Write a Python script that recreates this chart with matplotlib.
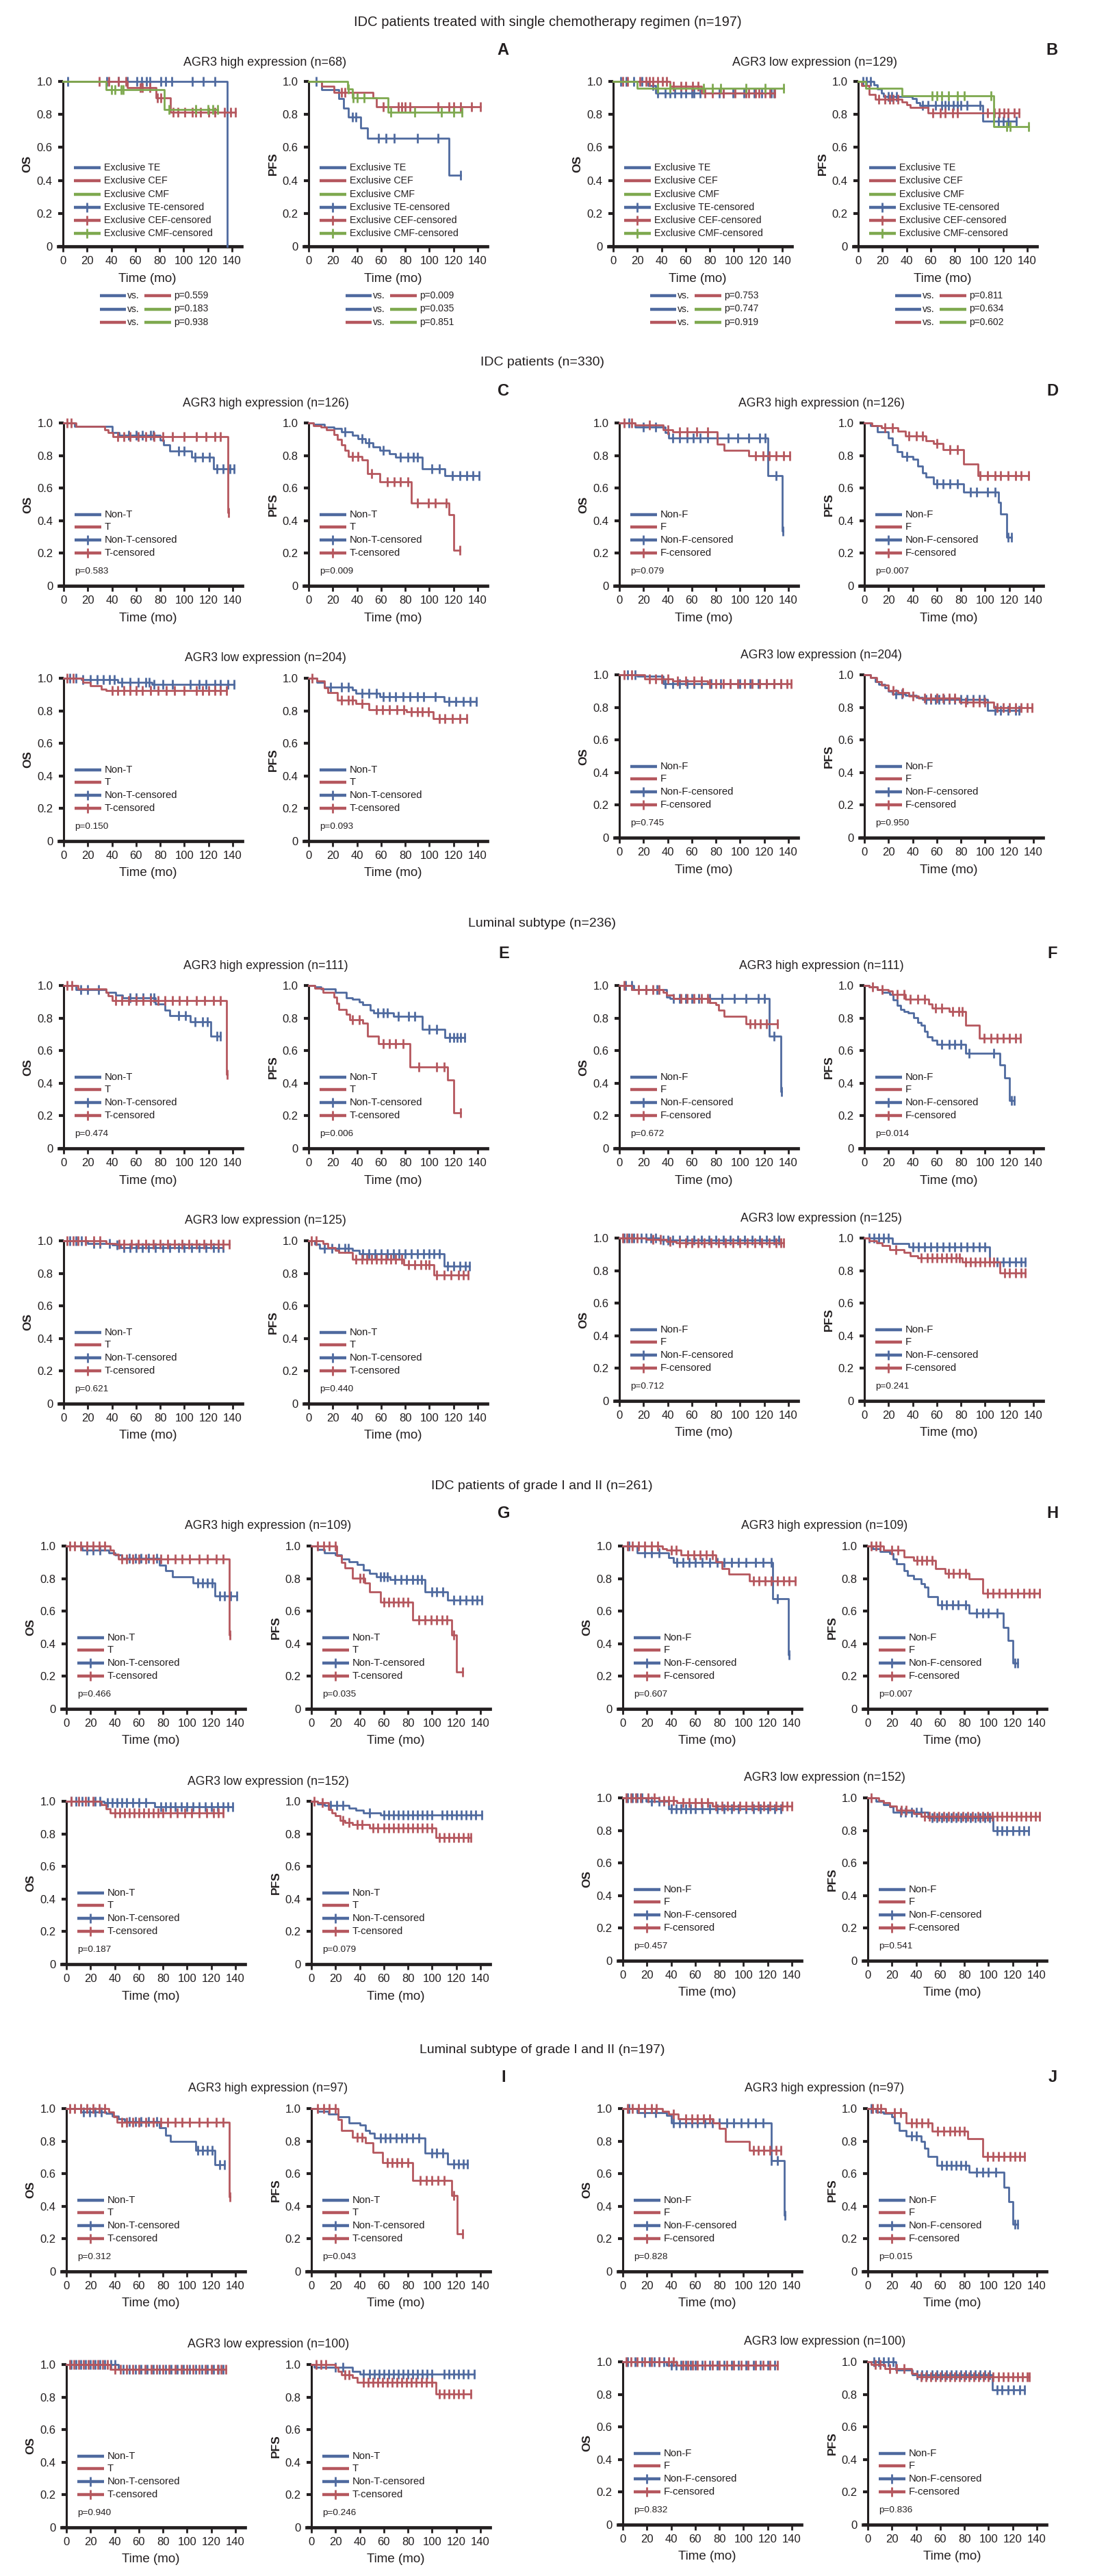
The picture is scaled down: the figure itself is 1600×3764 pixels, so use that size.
import matplotlib
matplotlib.use('Agg')
import matplotlib.pyplot as plt
from matplotlib.lines import Line2D

MAINF = ['Liberation Sans', 'DejaVu Sans']
plt.rcParams['font.family'] = MAINF

# ---------------------------------------------------------------- text data
TITLE_TOP = 'IDC patients treated with single chemotherapy regimen (n=197)'
SUB_A = 'AGR3 high expression (n=68)'
SUB_B = 'AGR3 low expression (n=129)'
SECTION_TITLES = ['IDC patients (n=330)', 'Luminal subtype (n=236)',
                  'IDC patients of grade I and II (n=261)',
                  'Luminal subtype of grade I and II (n=197)']
HIGH_N = [126, 111, 109, 97]
LOW_N = [204, 125, 152, 100]
LETTERS = [('C', 'D'), ('E', 'F'), ('G', 'H'), ('I', 'J')]
LEG_A = ['Exclusive TE', 'Exclusive CEF', 'Exclusive CMF',
         'Exclusive TE-censored', 'Exclusive CEF-censored', 'Exclusive CMF-censored']
LEG_T = ['Non-T', 'T', 'Non-T-censored', 'T-censored']
LEG_F = ['Non-F', 'F', 'Non-F-censored', 'F-censored']
XTICKS = [0, 20, 40, 60, 80, 100, 120, 140]
YTICKS = [0, 0.2, 0.4, 0.6, 0.8, 1.0]
YTICKLABELS = ['0', '0.2', '0.4', '0.6', '0.8', '1.0']

# p-values of row 1 (TE vs CEF, TE vs CMF, CEF vs CMF)
A_OS_P = ['0.559', '0.183', '0.938']
A_PFS_P = ['0.009', '0.035', '0.851']
B_OS_P = ['0.753', '0.747', '0.919']
B_PFS_P = ['0.811', '0.634', '0.602']
# p-values rows 2-9: [OS T, PFS T, OS F, PFS F]
P_CD_HI = ['0.583', '0.009', '0.079', '0.007']
P_CD_LO = ['0.150', '0.093', '0.745', '0.950']
P_EF_HI = ['0.474', '0.006', '0.672', '0.014']
P_EF_LO = ['0.621', '0.440', '0.712', '0.241']
P_GH_HI = ['0.466', '0.035', '0.607', '0.007']
P_GH_LO = ['0.187', '0.079', '0.457', '0.541']
P_IJ_HI = ['0.312', '0.043', '0.828', '0.015']
P_IJ_LO = ['0.940', '0.246', '0.832', '0.836']

# ---------------------------------------------------------------- curves
# steps: (time, survival after drop); censors: times
A_OS_TE = [(136, 0.0)]
A_OS_TE_C = [4, 36, 46, 53, 61, 65, 69, 72, 81, 85, 90, 107, 116, 126]
A_OS_CEF = [(53, 0.963), (77, 0.90), (89, 0.815)]
A_OS_CEF_C = [30, 38, 46, 52, 64, 66, 72, 78, 81, 91, 95, 101, 107, 110, 114, 121, 126, 134, 139, 143]
A_OS_CMF = [(35.5, 0.952), (84, 0.83)]
A_OS_CMF_C = [40, 43, 48, 50, 88, 110, 120, 124, 128]

A_PFS_TE = [(11, 0.95), (25, 0.895), (29, 0.84), (33, 0.785), (43, 0.716), (49, 0.655), (116, 0.432)]
A_PFS_TE_C = [6, 36, 39, 58, 64, 71, 90, 107, 126]
A_PFS_CEF = [(11, 0.973), (21, 0.933), (53, 0.90), (56, 0.846)]
A_PFS_CEF_C = [27, 30, 62, 74, 77, 80, 84, 107, 116, 120, 126, 135, 142]
A_PFS_CMF = [(32.5, 0.955), (36, 0.902), (66, 0.815)]
A_PFS_CMF_C = [33, 37, 40, 46, 68, 88, 110, 120, 127]

B_OS_TE = [(29, 0.975), (35, 0.93)]
B_OS_TE_C = [6, 11, 17, 24, 33, 37, 43, 47, 51, 56, 60, 65, 67, 72, 88, 91, 99, 108, 117, 123, 131, 133]
B_OS_CEF = [(47, 0.97), (73, 0.93)]
B_OS_CEF_C = [8, 12, 22, 27, 30, 33, 37, 41, 44, 50, 56, 60, 66, 70, 76, 82, 91, 101, 110, 112, 118, 121, 126, 130, 134]
B_OS_CMF = [(20, 0.958)]
B_OS_CMF_C = [37, 47, 75, 82, 89, 110, 126, 141]

B_PFS_TE = [(13, 0.98), (16, 0.955), (19, 0.93), (21, 0.907), (45, 0.895), (48, 0.87), (51, 0.853), (103, 0.76)]
B_PFS_TE_C = [4, 7, 10, 25, 28, 32, 53, 58, 64, 69, 72, 75, 79, 82, 85, 90, 101, 116, 120, 124, 131]
B_PFS_CEF = [(3, 0.975), (9, 0.923), (14, 0.892), (36, 0.875), (40, 0.86), (43, 0.842), (58, 0.811)]
B_PFS_CEF_C = [17, 22, 26, 29, 33, 62, 68, 72, 78, 82, 107, 113, 117, 121, 124, 129, 133]
B_PFS_CMF = [(6, 0.96), (36, 0.913), (112, 0.727)]
B_PFS_CMF_C = [61, 65, 69, 75, 82, 88, 110, 123, 126, 141]

# C / D  IDC patients
C_OS_HI_N = [(9, 0.977), (40, 0.94), (46, 0.925), (80, 0.895), (83, 0.864), (88, 0.826), (106, 0.79), (124, 0.72)]
C_OS_HI_N_C = [54, 60, 65, 72, 74, 95, 100, 109, 115, 121, 127, 132, 138, 141]
C_OS_HI_T = [(10, 0.98), (34, 0.96), (37, 0.94), (41, 0.915), (136, 0.45)]
C_OS_HI_T_C = [3, 6, 45, 50, 55, 62, 68, 75, 82, 90, 100, 110, 118, 125, 130, 136.5]
C_PFS_HI_N = [(4, 0.99), (13, 0.975), (21, 0.965), (27, 0.945), (36, 0.925), (41, 0.905), (47, 0.878), (53, 0.853), (59, 0.83), (67, 0.812), (72, 0.79), (94, 0.72), (113, 0.677)]
C_PFS_HI_N_C = [30, 44, 50, 62, 76, 82, 87, 90, 102, 108, 119, 125, 131, 136, 141]
C_PFS_HI_T = [(4, 0.985), (10, 0.975), (15, 0.96), (21, 0.927), (24, 0.899), (27, 0.864), (30, 0.83), (33, 0.794), (44, 0.772), (49, 0.69), (59, 0.639), (85, 0.51), (116, 0.435), (120, 0.218)]
C_PFS_HI_T_C = [36, 41, 52, 65, 71, 76, 82, 90, 99, 105, 114, 125]
D_OS_HI_N = [(13, 0.975), (38, 0.94), (41, 0.906), (123, 0.678), (135, 0.337)]
D_OS_HI_N_C = [8, 20, 30, 44, 50, 56, 61, 67, 73, 81, 90, 98, 107, 116, 121, 130, 135.5]
D_OS_HI_F = [(13, 0.986), (36, 0.96), (44, 0.945), (81, 0.871), (87, 0.831), (107, 0.798)]
D_OS_HI_F_C = [4, 10, 25, 40, 50, 56, 64, 73, 113, 119, 124, 130, 136, 141]
D_PFS_HI_N = [(5, 0.985), (11, 0.944), (20, 0.906), (23, 0.864), (27, 0.822), (31, 0.796), (40, 0.777), (44, 0.737), (48, 0.695), (51, 0.667), (57, 0.625), (82, 0.576), (111, 0.513), (113, 0.443), (118, 0.30)]
D_PFS_HI_N_C = [35, 60, 65, 71, 77, 88, 93, 102, 108, 119, 122]
D_PFS_HI_F = [(6, 0.985), (14, 0.972), (28, 0.948), (34, 0.92), (51, 0.892), (57, 0.875), (65, 0.836), (82, 0.747), (94, 0.677)]
D_PFS_HI_F_C = [17, 23, 37, 43, 48, 60, 71, 77, 96, 102, 108, 113, 119, 125, 130, 136]

C_OS_LO_N = [(15, 0.99), (45, 0.976), (73, 0.962)]
C_OS_LO_N_C = [5, 10, 16, 22, 28, 33, 38, 42, 48, 55, 62, 68, 71, 75, 82, 90, 105, 112, 118, 125, 130, 136, 141]
C_OS_LO_T = [(16, 0.976), (22, 0.955), (31, 0.934), (35, 0.923)]
C_OS_LO_T_C = [3, 8, 40, 45, 50, 55, 60, 65, 72, 78, 85, 92, 100, 110, 115, 120, 125, 130, 135]
C_PFS_LO_N = [(7, 0.975), (13, 0.944), (36, 0.93), (39, 0.909), (59, 0.885), (112, 0.857)]
C_PFS_LO_N_C = [18, 27, 33, 44, 50, 56, 62, 67, 72, 78, 84, 90, 95, 105, 116, 122, 128, 134, 139]
C_PFS_LO_T = [(7, 0.985), (13, 0.94), (16, 0.91), (24, 0.864), (39, 0.843), (50, 0.808), (81, 0.794), (103, 0.751)]
C_PFS_LO_T_C = [3, 27, 33, 36, 44, 56, 61, 67, 73, 79, 85, 90, 94, 99, 108, 113, 119, 125, 131]
D_OS_LO_N = [(15, 0.99), (36, 0.944)]
D_OS_LO_N_C = [7, 13, 38, 44, 50, 56, 62, 68, 76, 84, 92, 100, 108, 115, 122, 128, 134]
D_OS_LO_F = [(21, 0.975), (44, 0.961), (73, 0.944)]
D_OS_LO_F_C = [4, 10, 25, 30, 35, 40, 48, 55, 62, 68, 75, 80, 86, 92, 98, 104, 110, 116, 122, 128, 134, 139, 142]
D_PFS_LO_N = [(5, 0.985), (9, 0.96), (12, 0.94), (17, 0.92), (20, 0.898), (23, 0.884), (34, 0.875), (43, 0.86), (48, 0.849), (102, 0.78)]
D_PFS_LO_N_C = [26, 31, 51, 55, 59, 62, 66, 70, 75, 80, 85, 90, 95, 99, 108, 113, 119, 125, 128]
D_PFS_LO_F = [(5, 0.985), (10, 0.96), (14, 0.935), (20, 0.905), (28, 0.89), (37, 0.87), (45, 0.856), (79, 0.831), (107, 0.80)]
D_PFS_LO_F_C = [24, 32, 40, 50, 55, 60, 65, 70, 75, 84, 90, 95, 100, 110, 115, 120, 125, 130, 135, 139]

# E / F  Luminal subtype
E_OS_HI_N = [(10, 0.975), (35, 0.96), (43, 0.941), (49, 0.925), (76, 0.888), (84, 0.849), (88, 0.814), (105, 0.779), (122, 0.689)]
E_OS_HI_N_C = [14, 20, 29, 55, 60, 66, 72, 75, 95, 101, 109, 115, 119, 127, 130]
E_OS_HI_T = [(12, 0.98), (35, 0.96), (37, 0.935), (40, 0.906), (135, 0.455)]
E_OS_HI_T_C = [3, 7, 43, 48, 54, 60, 66, 72, 78, 84, 90, 96, 102, 110, 117, 124, 130, 135.5]
E_PFS_HI_N = [(5, 0.99), (10, 0.98), (22, 0.958), (31, 0.926), (36, 0.915), (42, 0.90), (45, 0.881), (51, 0.849), (54, 0.832), (70, 0.811), (94, 0.73), (113, 0.679)]
E_PFS_HI_N_C = [57, 62, 65, 74, 83, 88, 100, 106, 117, 120, 123, 126, 129]
E_PFS_HI_T = [(5, 0.985), (12, 0.96), (21, 0.93), (23, 0.89), (25, 0.853), (31, 0.822), (34, 0.79), (45, 0.77), (49, 0.69), (58, 0.644), (84, 0.50), (115, 0.42), (120, 0.218)]
E_PFS_HI_T_C = [36, 42, 62, 67, 72, 78, 91, 106, 112, 126]
F_OS_HI_N = [(12, 0.975), (39, 0.93), (42, 0.919), (124, 0.69), (134, 0.35)]
F_OS_HI_N_C = [5, 10, 22, 31, 45, 50, 55, 60, 66, 75, 85, 95, 105, 115, 120, 128, 134.5]
F_OS_HI_F = [(10, 0.975), (36, 0.96), (39, 0.94), (45, 0.92), (75, 0.895), (80, 0.881), (82, 0.849), (87, 0.811), (105, 0.765)]
F_OS_HI_F_C = [4, 16, 22, 28, 33, 51, 56, 62, 68, 73, 108, 112, 117, 122, 131]
F_PFS_HI_N = [(4, 0.99), (11, 0.975), (15, 0.96), (21, 0.944), (24, 0.91), (27, 0.88), (30, 0.853), (33, 0.84), (36, 0.83), (41, 0.804), (44, 0.775), (47, 0.755), (50, 0.72), (52, 0.686), (56, 0.665), (60, 0.637), (84, 0.584), (112, 0.514), (116, 0.434), (120, 0.294)]
F_PFS_HI_N_C = [64, 70, 75, 80, 87, 107, 122, 124]
F_PFS_HI_F = [(4, 0.99), (11, 0.975), (20, 0.965), (23, 0.944), (34, 0.916), (53, 0.888), (56, 0.863), (70, 0.839), (84, 0.758), (95, 0.675)]
F_PFS_HI_F_C = [7, 15, 27, 33, 38, 44, 50, 59, 64, 73, 78, 81, 99, 105, 110, 115, 120, 125, 129]

E_OS_LO_N = [(20, 0.985), (40, 0.975), (47, 0.958)]
E_OS_LO_N_C = [5, 10, 15, 25, 30, 38, 44, 50, 55, 60, 65, 70, 76, 82, 88, 95, 100, 106, 112, 118, 124, 128, 132]
E_OS_LO_T = [(35, 0.985), (43, 0.98)]
E_OS_LO_T_C = [3, 8, 12, 18, 25, 30, 46, 50, 56, 62, 68, 74, 80, 86, 92, 98, 104, 110, 116, 122, 128, 132, 137]
E_PFS_LO_N = [(5, 0.98), (9, 0.955), (36, 0.94), (42, 0.92), (112, 0.846)]
E_PFS_LO_N_C = [13, 19, 25, 30, 33, 45, 50, 55, 60, 65, 70, 75, 80, 85, 90, 95, 100, 104, 108, 115, 120, 125, 130, 133]
E_PFS_LO_T = [(12, 0.985), (16, 0.96), (22, 0.941), (25, 0.93), (36, 0.888), (79, 0.853), (104, 0.79)]
E_PFS_LO_T_C = [2, 6, 39, 44, 48, 52, 56, 60, 64, 68, 72, 77, 83, 88, 93, 97, 100, 106, 112, 118, 124, 128, 132]
F_OS_LO_N = [(33, 0.989), (47, 0.986)]
F_OS_LO_N_C = [4, 8, 12, 18, 22, 26, 30, 36, 40, 44, 50, 56, 62, 68, 74, 80, 86, 92, 98, 104, 110, 116, 122, 128, 132]
F_OS_LO_F = [(22, 0.99), (39, 0.98), (47, 0.972)]
F_OS_LO_F_C = [3, 6, 10, 15, 28, 34, 42, 50, 55, 60, 65, 70, 76, 82, 88, 94, 100, 106, 112, 118, 124, 130, 134, 136]
F_PFS_LO_N = [(23, 0.965), (37, 0.947), (104, 0.853)]
F_PFS_LO_N_C = [4, 8, 12, 16, 20, 40, 45, 50, 55, 60, 65, 70, 75, 80, 85, 90, 95, 100, 110, 115, 120, 125, 130, 133]
F_PFS_LO_F = [(4, 0.985), (10, 0.97), (15, 0.954), (21, 0.929), (33, 0.912), (38, 0.891), (44, 0.877), (81, 0.852), (112, 0.786)]
F_PFS_LO_F_C = [26, 47, 52, 56, 60, 64, 68, 72, 76, 79, 84, 88, 92, 96, 100, 104, 107, 116, 120, 125, 130, 133]

# G / H  IDC grade I and II
G_OS_HI_N = [(13, 0.975), (35, 0.96), (40, 0.945), (46, 0.926), (77, 0.883), (82, 0.848), (88, 0.813), (105, 0.774), (123, 0.694)]
G_OS_HI_N_C = [17, 22, 28, 52, 57, 62, 68, 75, 109, 113, 117, 121, 127, 131, 136, 141]
G_OS_HI_T = [(36, 0.975), (39, 0.95), (43, 0.919), (135, 0.455)]
G_OS_HI_T_C = [3, 7, 12, 17, 22, 27, 32, 46, 50, 55, 60, 66, 72, 78, 84, 90, 96, 102, 110, 117, 124, 130, 135.5]
G_PFS_HI_N = [(5, 0.98), (11, 0.956), (20, 0.945), (25, 0.92), (31, 0.905), (38, 0.885), (43, 0.855), (48, 0.834), (54, 0.813), (65, 0.795), (94, 0.718), (113, 0.666)]
G_PFS_HI_N_C = [57, 60, 63, 69, 74, 79, 84, 88, 91, 100, 104, 109, 118, 123, 128, 133, 137, 141]
G_PFS_HI_T = [(21, 0.94), (25, 0.898), (28, 0.865), (34, 0.803), (44, 0.774), (48, 0.718), (57, 0.655), (84, 0.546), (116, 0.455), (120, 0.226)]
G_PFS_HI_T_C = [5, 10, 15, 20, 40, 43, 60, 64, 68, 72, 76, 80, 89, 94, 99, 104, 108, 112, 118, 125]
H_OS_HI_N = [(12, 0.96), (38, 0.93), (42, 0.90), (124, 0.676), (137, 0.33)]
H_OS_HI_N_C = [5, 18, 24, 30, 45, 50, 55, 60, 66, 72, 78, 84, 90, 96, 102, 110, 116, 123, 128, 137.5]
H_OS_HI_F = [(33, 0.985), (36, 0.975), (48, 0.947), (77, 0.905), (82, 0.862), (88, 0.827), (105, 0.785)]
H_OS_HI_F_C = [4, 8, 13, 18, 24, 29, 40, 44, 54, 59, 64, 69, 74, 108, 113, 118, 123, 128, 133, 138, 143]
H_PFS_HI_N = [(4, 0.985), (10, 0.965), (18, 0.955), (21, 0.92), (24, 0.89), (30, 0.848), (33, 0.82), (38, 0.80), (44, 0.77), (47, 0.75), (50, 0.688), (58, 0.638), (84, 0.59), (112, 0.50), (116, 0.42), (120, 0.28)]
H_PFS_HI_N_C = [61, 65, 70, 75, 81, 90, 95, 100, 107, 122, 124]
H_PFS_HI_F = [(13, 0.975), (30, 0.933), (38, 0.912), (56, 0.862), (64, 0.834), (84, 0.80), (95, 0.712)]
H_PFS_HI_F_C = [3, 7, 10, 20, 25, 41, 45, 49, 53, 67, 71, 76, 81, 99, 104, 109, 114, 119, 124, 129, 134, 138, 142]

G_OS_LO_N = [(31, 0.99), (73, 0.968)]
G_OS_LO_N_C = [4, 8, 13, 18, 24, 28, 34, 38, 42, 46, 50, 55, 60, 66, 78, 82, 86, 90, 95, 100, 105, 110, 115, 120, 125, 130, 134, 138]
G_OS_LO_T = [(29, 0.98), (33, 0.954), (36, 0.929)]
G_OS_LO_T_C = [4, 10, 16, 22, 40, 44, 48, 52, 56, 60, 64, 68, 72, 76, 80, 86, 92, 98, 104, 110, 116, 122, 126, 130]
G_PFS_LO_N = [(5, 0.985), (11, 0.975), (31, 0.96), (37, 0.945), (43, 0.929), (57, 0.916)]
G_PFS_LO_N_C = [16, 21, 26, 48, 60, 64, 68, 72, 76, 80, 84, 88, 92, 96, 100, 108, 112, 116, 120, 124, 128, 132, 136, 141]
G_PFS_LO_T = [(5, 0.99), (14, 0.95), (17, 0.93), (20, 0.912), (24, 0.884), (28, 0.87), (34, 0.856), (48, 0.838), (103, 0.779)]
G_PFS_LO_T_C = [2, 9, 26, 31, 38, 42, 51, 55, 60, 64, 68, 72, 76, 80, 84, 88, 92, 96, 100, 106, 110, 114, 118, 122, 126, 130, 132]
H_OS_LO_N = [(19, 0.978), (38, 0.933)]
H_OS_LO_N_C = [4, 8, 12, 16, 24, 30, 34, 40, 44, 48, 52, 56, 60, 66, 72, 78, 84, 90, 96, 102, 108, 114, 120, 126, 131]
H_OS_LO_F = [(30, 0.982), (45, 0.971), (74, 0.95)]
H_OS_LO_F_C = [3, 7, 11, 15, 21, 26, 34, 38, 42, 50, 55, 60, 65, 70, 77, 82, 87, 92, 97, 102, 107, 112, 117, 122, 127, 132, 136, 140]
H_PFS_LO_N = [(7, 0.98), (13, 0.96), (18, 0.947), (21, 0.912), (50, 0.877), (104, 0.797)]
H_PFS_LO_N_C = [27, 31, 36, 40, 44, 53, 57, 61, 65, 69, 73, 77, 81, 85, 89, 93, 97, 101, 107, 111, 115, 120, 125, 129, 133]
H_PFS_LO_F = [(9, 0.985), (13, 0.97), (18, 0.95), (24, 0.926), (38, 0.905), (44, 0.888)]
H_PFS_LO_F_C = [3, 28, 32, 47, 51, 55, 59, 63, 67, 71, 75, 79, 83, 87, 91, 95, 99, 103, 107, 111, 115, 119, 123, 127, 131, 135, 139, 142]

# I / J  Luminal grade I and II
I_OS_HI_N = [(12, 0.98), (33, 0.97), (38, 0.955), (43, 0.935), (48, 0.92), (77, 0.883), (82, 0.836), (86, 0.797), (107, 0.745), (123, 0.654)]
I_OS_HI_N_C = [14, 19, 24, 29, 52, 57, 62, 68, 75, 109, 113, 117, 121, 127, 131]
I_OS_HI_T = [(35, 0.98), (39, 0.95), (42, 0.916), (135, 0.46)]
I_OS_HI_T_C = [3, 7, 12, 17, 22, 27, 32, 46, 50, 55, 60, 66, 72, 78, 84, 90, 96, 102, 110, 117, 124, 130, 135.5]
I_PFS_HI_N = [(5, 0.985), (14, 0.965), (22, 0.95), (31, 0.911), (40, 0.90), (45, 0.865), (48, 0.85), (52, 0.82), (94, 0.725), (113, 0.66)]
I_PFS_HI_N_C = [57, 61, 65, 70, 75, 79, 84, 89, 100, 104, 109, 118, 122, 126, 129]
I_PFS_HI_T = [(22, 0.934), (25, 0.865), (34, 0.824), (45, 0.788), (51, 0.732), (59, 0.667), (84, 0.558), (116, 0.467), (121, 0.23)]
I_PFS_HI_T_C = [5, 10, 15, 20, 38, 42, 63, 67, 71, 75, 80, 90, 95, 100, 105, 110, 118, 125]
J_OS_HI_N = [(12, 0.976), (36, 0.96), (40, 0.911), (123, 0.68), (134, 0.343)]
J_OS_HI_N_C = [5, 18, 27, 42, 47, 52, 57, 62, 68, 74, 80, 86, 92, 98, 104, 110, 116, 123, 128, 134.5]
J_OS_HI_F = [(33, 0.985), (38, 0.965), (46, 0.936), (75, 0.91), (80, 0.88), (85, 0.797), (105, 0.745)]
J_OS_HI_F_C = [4, 8, 13, 18, 24, 28, 42, 52, 57, 62, 67, 72, 108, 112, 117, 122, 127, 131]
J_PFS_HI_N = [(7, 0.98), (13, 0.97), (20, 0.95), (22, 0.91), (26, 0.865), (32, 0.83), (44, 0.797), (47, 0.755), (50, 0.707), (57, 0.651), (84, 0.609), (113, 0.518), (117, 0.428), (120, 0.289)]
J_PFS_HI_N_C = [3, 36, 40, 61, 65, 69, 73, 77, 81, 90, 95, 100, 106, 122, 124]
J_PFS_HI_F = [(15, 0.975), (32, 0.912), (53, 0.86), (83, 0.816), (95, 0.707)]
J_PFS_HI_F_C = [4, 8, 11, 22, 27, 36, 40, 45, 50, 58, 63, 68, 72, 76, 80, 99, 104, 108, 113, 118, 122, 126, 130]

I_OS_LO_N = [(43, 0.972)]
I_OS_LO_N_C = [4, 8, 12, 16, 20, 24, 28, 32, 37, 40, 47, 52, 57, 62, 67, 72, 77, 82, 87, 92, 97, 102, 107, 112, 117, 122, 126, 130]
I_OS_LO_T = [(36, 0.972)]
I_OS_LO_T_C = [3, 6, 10, 14, 18, 22, 26, 30, 34, 40, 45, 50, 55, 60, 65, 70, 75, 80, 85, 90, 95, 100, 105, 110, 115, 120, 125, 128, 132]
I_PFS_LO_N = [(2, 0.983), (34, 0.96), (40, 0.94)]
I_PFS_LO_N_C = [20, 26, 43, 48, 52, 56, 60, 64, 68, 72, 76, 80, 84, 88, 92, 96, 100, 110, 114, 118, 122, 126, 130, 135]
I_PFS_LO_T = [(20, 0.985), (22, 0.96), (25, 0.937), (34, 0.92), (38, 0.891), (103, 0.819)]
I_PFS_LO_T_C = [4, 8, 12, 28, 31, 43, 47, 51, 55, 59, 63, 67, 71, 75, 79, 83, 87, 91, 95, 100, 106, 110, 114, 118, 122, 126, 132]
J_OS_LO_N = [(36, 0.979)]
J_OS_LO_N_C = [4, 10, 16, 22, 26, 30, 34, 40, 44, 48, 52, 56, 60, 66, 72, 78, 84, 90, 96, 102, 108, 114, 120, 126]
J_OS_LO_F = [(45, 0.979)]
J_OS_LO_F_C = [3, 7, 12, 18, 24, 30, 38, 42, 50, 54, 58, 62, 68, 74, 80, 86, 92, 98, 104, 110, 116, 122, 128]
J_PFS_LO_N = [(23, 0.95), (37, 0.922), (103, 0.828)]
J_PFS_LO_N_C = [5, 9, 13, 17, 21, 41, 45, 49, 53, 57, 61, 65, 69, 73, 77, 81, 85, 89, 93, 97, 101, 107, 111, 116, 121, 126, 130]
J_PFS_LO_F = [(3, 0.982), (14, 0.96), (36, 0.93), (41, 0.908)]
J_PFS_LO_F_C = [6, 10, 18, 24, 30, 44, 48, 52, 56, 60, 64, 68, 72, 76, 80, 84, 88, 92, 96, 100, 104, 108, 112, 116, 120, 124, 128, 132, 134]

# ---------------------------------------------------------------- style / layout
BLUE = '#4f6a9f'
RED = '#b5575e'
GREEN = '#7ea94f'
AXC = '#231f20'

W, H = 1600, 3764
PXU = 247 / 140.0
fig = plt.figure(figsize=(W / 100, H / 100), dpi=100)

ROW_TOP_L = [119, 618, 991, 1440, 1813, 2259, 2632, 3081, 3455]
ROW_TOP_R = [119, 618, 986, 1440, 1809, 2259, 2627, 3081, 3451]
ROW_H = [241, 238, 238, 238, 238, 238, 238, 238, 238]
ROW_COLS = [[92, 451, 896, 1254]] + [[93, 451, 905, 1263]] * 4 + [[97, 455, 910, 1268]] * 4


def ftext(x, y, s, size, **kw):
    kw.setdefault('ha', 'center')
    kw.setdefault('va', 'center')
    kw.setdefault('color', AXC)
    fig.text(x / W, 1 - y / H, s, fontsize=size, **kw)


def fline(x1, x2, y, color, lw=3.2):
    fig.add_artist(Line2D([x1 / W, x2 / W], [1 - y / H, 1 - y / H],
                          transform=fig.transFigure, color=color, lw=lw,
                          solid_capstyle='butt'))


def make_ax(x0, ytop, h, ylabel, tsize):
    ax = fig.add_axes([(x0 - 4 * PXU) / W, 1 - (ytop + h) / H, 152 * PXU / W, h / H])
    ax.set_xlim(-4, 148)
    ax.set_ylim(0, 1.0)
    ax.patch.set_alpha(0)
    for s in ('top', 'right'):
        ax.spines[s].set_visible(False)
    ax.spines['left'].set_position(('data', 0))
    ax.spines['left'].set_linewidth(2.2)
    ax.spines['bottom'].set_linewidth(3.4)
    ax.spines['left'].set_color(AXC)
    ax.spines['bottom'].set_color(AXC)
    ax.set_xticks(XTICKS)
    ax.set_yticks(YTICKS)
    ax.set_yticklabels(YTICKLABELS)
    ax.tick_params(axis='both', direction='out', colors=AXC, labelsize=tsize)
    ax.tick_params(axis='y', length=5, width=3, pad=6)
    ax.tick_params(axis='x', length=6, width=2, pad=4)
    ftext(x0 - 52, ytop + h / 2, ylabel, 12.5, rotation=90, fontweight='bold')
    ftext(x0 + 70 * PXU, ytop + h + 47, 'Time (mo)', 13.5)
    return ax


def surv_at(steps, t):
    s = 1.0
    for tt, ss in steps:
        if tt <= t:
            s = ss
    return s


def draw_km(ax, steps, cens, color):
    end = max([t for t, _ in steps] + list(cens))
    xs = [0] + [t for t, _ in steps] + [end]
    ys = [1.0] + [s for _, s in steps] + [steps[-1][1]]
    ax.step(xs, ys, where='post', color=color, lw=2.0, clip_on=False, zorder=3)
    ax.plot(cens, [surv_at(steps, t) for t in cens], ls='none', marker='|', ms=10,
            mew=2.0, color=color, clip_on=False, zorder=3)


def draw_legend(ax, labels, colors, offsets, h, fsize):
    n = len(labels)
    for i, (lab, col, off) in enumerate(zip(labels, colors, offsets)):
        y = off / h
        ax.plot([9, 31], [y, y], color=col, lw=3.2, clip_on=False, solid_capstyle='butt')
        if i >= n // 2:
            ax.plot([20], [y], marker='|', ms=10, mew=2.0, color=col, clip_on=False)
        ax.text(34, y, lab, fontsize=fsize, va='center', ha='left', color=AXC)


# ---------------------------------------------------------------- row 1
ftext(800, 32, TITLE_TOP, 14.5)
ftext(735, 74, 'A', 17, fontweight='bold')
ftext(1537, 74, 'B', 17, fontweight='bold')
ftext(ROW_COLS[0][0] + 295, 91, SUB_A, 13)
ftext(ROW_COLS[0][2] + 295, 91, SUB_B, 13)

ROW1 = [
    ('OS', [(A_OS_TE, A_OS_TE_C), (A_OS_CEF, A_OS_CEF_C), (A_OS_CMF, A_OS_CMF_C)], A_OS_P),
    ('PFS', [(A_PFS_TE, A_PFS_TE_C), (A_PFS_CEF, A_PFS_CEF_C), (A_PFS_CMF, A_PFS_CMF_C)], A_PFS_P),
    ('OS', [(B_OS_TE, B_OS_TE_C), (B_OS_CEF, B_OS_CEF_C), (B_OS_CMF, B_OS_CMF_C)], B_OS_P),
    ('PFS', [(B_PFS_TE, B_PFS_TE_C), (B_PFS_CEF, B_PFS_CEF_C), (B_PFS_CMF, B_PFS_CMF_C)], B_PFS_P),
]
COL3 = [BLUE, RED, GREEN]
PAIRS = [(BLUE, RED), (BLUE, GREEN), (RED, GREEN)]
for ci, (ylab, curves, pv) in enumerate(ROW1):
    x0 = ROW_COLS[0][ci]
    ytop, h = ROW_TOP_L[0], ROW_H[0]
    ax = make_ax(x0, ytop, h, ylab, 12)
    for (st, ce), col in zip(curves, COL3):
        draw_km(ax, st, ce, col)
    draw_legend(ax, LEG_A, COL3 * 2, [115, 96, 76, 57, 38, 19], h, 10.3)
    for k, ((c1, c2), p) in enumerate(zip(PAIRS, pv)):
        yy = ytop + h + 72 + 19.5 * k
        fline(x0 + 54, x0 + 92, yy, c1)
        ftext(x0 + 94, yy, 'vs.', 10, ha='left')
        fline(x0 + 119, x0 + 158, yy, c2)
        ftext(x0 + 162, yy, 'p=' + p, 10, ha='left')

# ---------------------------------------------------------------- rows 2-9
GROUPS = [
    ([(C_OS_HI_N, C_OS_HI_N_C, C_OS_HI_T, C_OS_HI_T_C), (C_PFS_HI_N, C_PFS_HI_N_C, C_PFS_HI_T, C_PFS_HI_T_C),
      (D_OS_HI_N, D_OS_HI_N_C, D_OS_HI_F, D_OS_HI_F_C), (D_PFS_HI_N, D_PFS_HI_N_C, D_PFS_HI_F, D_PFS_HI_F_C)],
     [(C_OS_LO_N, C_OS_LO_N_C, C_OS_LO_T, C_OS_LO_T_C), (C_PFS_LO_N, C_PFS_LO_N_C, C_PFS_LO_T, C_PFS_LO_T_C),
      (D_OS_LO_N, D_OS_LO_N_C, D_OS_LO_F, D_OS_LO_F_C), (D_PFS_LO_N, D_PFS_LO_N_C, D_PFS_LO_F, D_PFS_LO_F_C)],
     P_CD_HI, P_CD_LO),
    ([(E_OS_HI_N, E_OS_HI_N_C, E_OS_HI_T, E_OS_HI_T_C), (E_PFS_HI_N, E_PFS_HI_N_C, E_PFS_HI_T, E_PFS_HI_T_C),
      (F_OS_HI_N, F_OS_HI_N_C, F_OS_HI_F, F_OS_HI_F_C), (F_PFS_HI_N, F_PFS_HI_N_C, F_PFS_HI_F, F_PFS_HI_F_C)],
     [(E_OS_LO_N, E_OS_LO_N_C, E_OS_LO_T, E_OS_LO_T_C), (E_PFS_LO_N, E_PFS_LO_N_C, E_PFS_LO_T, E_PFS_LO_T_C),
      (F_OS_LO_N, F_OS_LO_N_C, F_OS_LO_F, F_OS_LO_F_C), (F_PFS_LO_N, F_PFS_LO_N_C, F_PFS_LO_F, F_PFS_LO_F_C)],
     P_EF_HI, P_EF_LO),
    ([(G_OS_HI_N, G_OS_HI_N_C, G_OS_HI_T, G_OS_HI_T_C), (G_PFS_HI_N, G_PFS_HI_N_C, G_PFS_HI_T, G_PFS_HI_T_C),
      (H_OS_HI_N, H_OS_HI_N_C, H_OS_HI_F, H_OS_HI_F_C), (H_PFS_HI_N, H_PFS_HI_N_C, H_PFS_HI_F, H_PFS_HI_F_C)],
     [(G_OS_LO_N, G_OS_LO_N_C, G_OS_LO_T, G_OS_LO_T_C), (G_PFS_LO_N, G_PFS_LO_N_C, G_PFS_LO_T, G_PFS_LO_T_C),
      (H_OS_LO_N, H_OS_LO_N_C, H_OS_LO_F, H_OS_LO_F_C), (H_PFS_LO_N, H_PFS_LO_N_C, H_PFS_LO_F, H_PFS_LO_F_C)],
     P_GH_HI, P_GH_LO),
    ([(I_OS_HI_N, I_OS_HI_N_C, I_OS_HI_T, I_OS_HI_T_C), (I_PFS_HI_N, I_PFS_HI_N_C, I_PFS_HI_T, I_PFS_HI_T_C),
      (J_OS_HI_N, J_OS_HI_N_C, J_OS_HI_F, J_OS_HI_F_C), (J_PFS_HI_N, J_PFS_HI_N_C, J_PFS_HI_F, J_PFS_HI_F_C)],
     [(I_OS_LO_N, I_OS_LO_N_C, I_OS_LO_T, I_OS_LO_T_C), (I_PFS_LO_N, I_PFS_LO_N_C, I_PFS_LO_T, I_PFS_LO_T_C),
      (J_OS_LO_N, J_OS_LO_N_C, J_OS_LO_F, J_OS_LO_F_C), (J_PFS_LO_N, J_PFS_LO_N_C, J_PFS_LO_F, J_PFS_LO_F_C)],
     P_IJ_HI, P_IJ_LO),
]
SECTION_Y = [530, 1350, 2172, 2995]
LETTER_Y = [571, 1393, 2212, 3035]
YLABS = ['OS', 'PFS', 'OS', 'PFS']

for g, (hi, lo, phi, plo) in enumerate(GROUPS):
    ftext(792, SECTION_Y[g], SECTION_TITLES[g], 14)
    ftext(736, LETTER_Y[g], LETTERS[g][0], 17, fontweight='bold')
    ftext(1538, LETTER_Y[g], LETTERS[g][1], 17, fontweight='bold')
    for sub, (curves, pvals, nval, word) in enumerate([(hi, phi, HIGH_N[g], 'high'),
                                                         (lo, plo, LOW_N[g], 'low')]):
        r = 1 + 2 * g + sub
        cols = ROW_COLS[r]
        h = ROW_H[r]
        for side in range(2):
            ytop = ROW_TOP_L[r] if side == 0 else ROW_TOP_R[r]
            ftext(cols[2 * side] + 295, ytop - 29, 'AGR3 %s expression (n=%d)' % (word, nval), 12.7)
            for k in range(2):
                ci = 2 * side + k
                ax = make_ax(cols[ci], ytop, h, YLABS[ci], 12)
                sn, cn, sr, cr = curves[ci]
                draw_km(ax, sn, cn, BLUE)
                draw_km(ax, sr, cr, RED)
                draw_legend(ax, LEG_T if side == 0 else LEG_F, [BLUE, RED, BLUE, RED],
                            [104, 86, 67, 48], h, 10.7)
                ax.text(9, 21 / h, 'p=' + pvals[ci], fontsize=9.7, va='center', ha='left', color=AXC)

fig.savefig('out.png', dpi=100)
